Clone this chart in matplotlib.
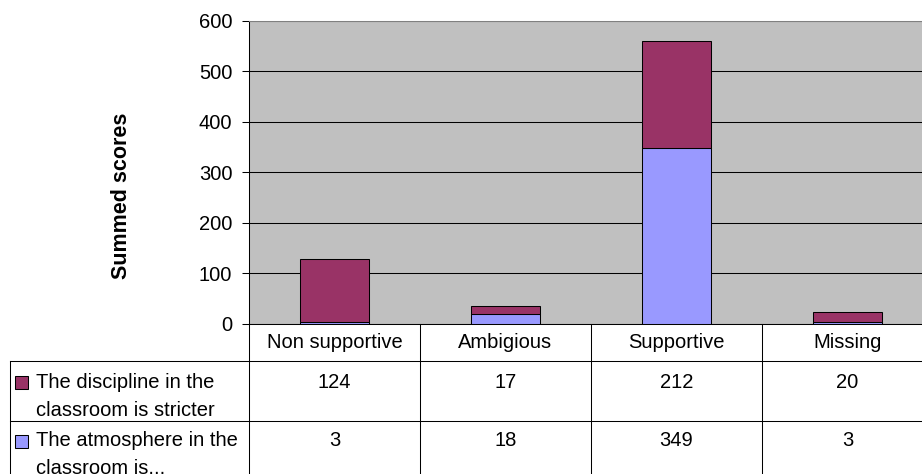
import matplotlib
matplotlib.use("Agg")
import matplotlib.pyplot as plt
from matplotlib.lines import Line2D
from matplotlib.patches import Rectangle
from matplotlib.transforms import blended_transform_factory

categories = ["Non supportive", "Ambigious", "Supportive", "Missing"]
atmosphere = [3, 18, 349, 3]
discipline = [124, 17, 212, 20]
series_labels = [["The discipline in the", "classroom is stricter"],
                 ["The atmosphere in the", "classroom is..."]]
yticks = [0, 100, 200, 300, 400, 500, 600]

C_DISC = "#993366"
C_ATM = "#9999FF"
BG = "#C0C0C0"
FS = 14.5

plt.rcParams["font.family"] = ["Liberation Sans", "DejaVu Sans"]
W, H = 922, 474
fig = plt.figure(figsize=(W / 100, H / 100), dpi=100)

def fx(x):
    return x / W

def fy(y):
    return 1 - y / H

L, R, T, B = 249, 933, 21, 323.5
ax = fig.add_axes([fx(L), fy(B), (R - L) / W, (B - T) / H])
ax.set_facecolor(BG)
xs = list(range(len(categories)))
ax.bar(xs, atmosphere, width=0.4, color=C_ATM, edgecolor="black", linewidth=0.75, zorder=3)
ax.bar(xs, discipline, width=0.4, bottom=atmosphere, color=C_DISC, edgecolor="black", linewidth=0.75, zorder=3)
ax.set_xlim(-0.5, len(categories) - 0.5)
ax.set_ylim(0, 600)
ax.set_yticks(yticks)
ax.set_xticks([])
ax.yaxis.grid(True, color="black", linewidth=0.75)
ax.set_axisbelow(True)
ax.tick_params(axis="y", direction="out", length=5, width=0.75, pad=7, labelsize=FS)
ax.spines["right"].set_visible(False)
ax.spines["top"].set_color("#808080")
ax.spines["top"].set_linewidth(0.75)
ax.spines["left"].set_linewidth(0.75)
ax.spines["bottom"].set_linewidth(0.75)

fig.text(fx(121), fy(196), "Summed scores", rotation=90, ha="center", va="center",
         fontsize=15.5, fontweight="bold")

# data table
tr = blended_transform_factory(ax.transData, fig.transFigure)
def hline(x0, x1, y):
    fig.add_artist(Line2D([fx(x0), fx(x1)], [fy(y), fy(y)], color="black", lw=0.75,
                          transform=fig.transFigure))
def vline(x, y0, y1):
    fig.add_artist(Line2D([fx(x), fx(x)], [fy(y0), fy(y1)], color="black", lw=0.75,
                          transform=fig.transFigure))

hline(10, 934, 361)
hline(10, 934, 421)
vline(10, 361, 480)
for i in range(len(categories) + 1):
    xb = i - 0.5
    fig.add_artist(Line2D([xb, xb], [fy(B), fy(480)], color="black", lw=0.75, transform=tr))

for i, c in enumerate(categories):
    fig.text(i, fy(342.5), c, transform=tr, ha="center", va="center", fontsize=FS)
    fig.text(i, fy(382), str(discipline[i]), transform=tr, ha="center", va="center", fontsize=FS)
    fig.text(i, fy(441), str(atmosphere[i]), transform=tr, ha="center", va="center", fontsize=FS)

rows_y = [382, 441]
for lines, col, yc in zip(series_labels, [C_DISC, C_ATM], rows_y):
    for k, ln in enumerate(lines):
        fig.text(fx(36), fy(yc + 28 * k), ln, ha="left", va="center", fontsize=FS)
    fig.add_artist(Rectangle((fx(15), fy(yc + 6.5)), 13 / W, 13 / H, facecolor=col,
                             edgecolor="black", lw=0.75, transform=fig.transFigure))

fig.savefig("out.png", dpi=100)
